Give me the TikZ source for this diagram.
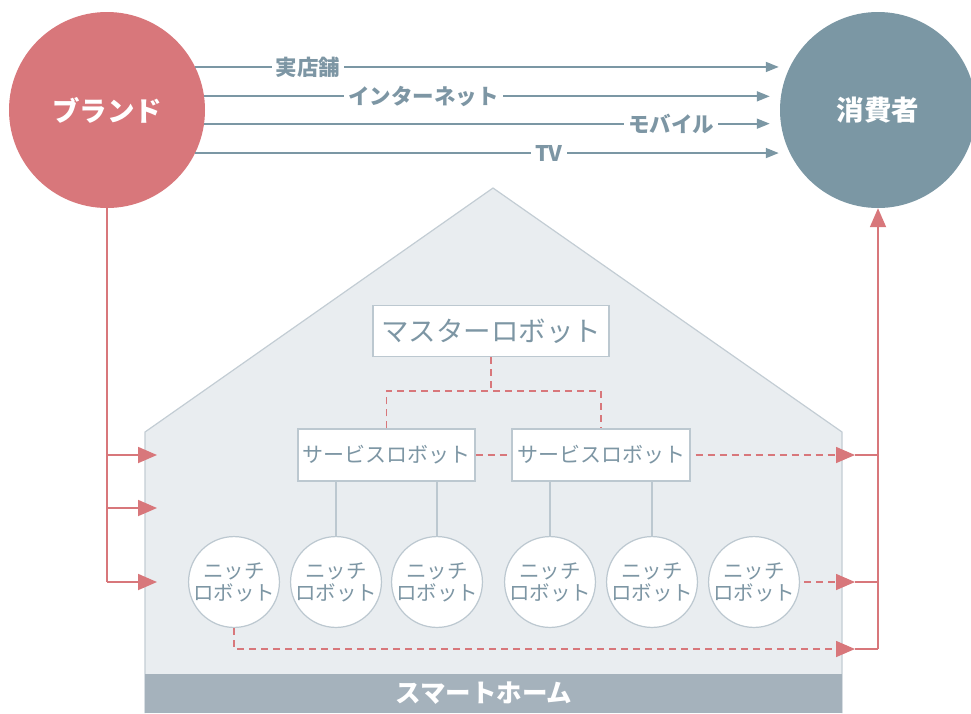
\documentclass[tikz,border=0pt]{standalone}
\usepackage{fontspec}
\setmainfont{Noto Sans CJK JP}
\usetikzlibrary{arrows.meta}
\definecolor{brandred}{HTML}{D8777B}
\definecolor{consblue}{HTML}{7B97A4}
\definecolor{slate}{HTML}{7D96A4}
\definecolor{housefill}{HTML}{E9EDF0}
\definecolor{housedraw}{HTML}{C3CDD4}
\definecolor{bandfill}{HTML}{A5B2BC}
\definecolor{boxdraw}{HTML}{BCC8D0}
\tikzset{
  bigcircle/.style={circle, minimum size=196pt, inner sep=0pt, text=white, font=\fontsize{27.5}{27.5}\selectfont\bfseries},
  chanline/.style={draw=consblue, line width=1.8pt, -{Triangle[length=13pt,width=10pt]}, shorten >=11pt},
  chanlabel/.style={fill=white, inner sep=4pt, text=slate, font=\fontsize{21.5}{21.5}\selectfont\bfseries},
  redline/.style={draw=brandred, line width=1.8pt},
  redarrow/.style={draw=brandred, line width=1.8pt, -{Triangle[length=19pt,width=16pt]}},
  reddash/.style={draw=brandred, line width=1.5pt, dash pattern=on 7pt off 5pt},
  reddasharrow/.style={reddash, -{Triangle[length=19pt,width=16pt]}},
  graylink/.style={draw=boxdraw, line width=1.5pt},
  robobox/.style={draw=boxdraw, line width=1.2pt, fill=white, text=slate, inner sep=0pt},
  niche/.style={circle, draw=boxdraw, line width=1.2pt, fill=white, text=slate, minimum size=88pt, inner sep=0pt, align=center, font=\fontsize{20.5}{22}\selectfont},
}
\begin{document}
\begin{tikzpicture}[x=1pt,y=-1pt]
\useasboundingbox (0,0) rectangle (971,713);
% house
\path[fill=housefill, draw=housedraw, line width=1.2pt] (145,713) -- (145,432) -- (493,188) -- (842,432) -- (842,713);
\fill[bandfill] (145,674) rectangle (842,713);
\node[text=white, font=\fontsize{25.5}{25.5}\selectfont\bfseries] (home) at (484,693) {スマートホーム};

% big circles
\node[bigcircle, fill=brandred] (brand) at (107,110) {ブランド};
\node[bigcircle, fill=consblue] (cons) at (878,110) {消費者};

% channels
\draw[chanline] (brand.26) -- (cons.154) node[chanlabel, pos=0.19] (l1) {実店舗};
\draw[chanline] (brand.8) -- (cons.172) node[chanlabel, pos=0.38] (l2) {インターネット};
\draw[chanline] (brand.-8) -- (cons.-172) node[chanlabel, pos=0.81] (l3) {モバイル};
\draw[chanline] (brand.-26) -- (cons.-154) node[chanlabel, pos=0.595] (l4) {TV};

% robots
\node[robobox, minimum width=236pt, minimum height=51pt, font=\fontsize{27.5}{27.5}\selectfont] (master) at (491,331) {マスターロボット};
\node[robobox, minimum width=177pt, minimum height=52pt, font=\fontsize{21}{21}\selectfont] (s1) at (386.5,455) {サービスロボット};
\node[robobox, minimum width=178pt, minimum height=52pt, font=\fontsize{21}{21}\selectfont] (s2) at (601,455) {サービスロボット};

\node[niche] (n1) at (234,582) {ニッチ\\ロボット};
\node[niche] (n2) at (336,582) {ニッチ\\ロボット};
\node[niche] (n3) at (437,582) {ニッチ\\ロボット};
\node[niche] (n4) at (550,582) {ニッチ\\ロボット};
\node[niche] (n5) at (652,582) {ニッチ\\ロボット};
\node[niche] (n6) at (754,582) {ニッチ\\ロボット};

% gray links
\draw[graylink] (n2.north |- s1.south) -- (n2.north);
\draw[graylink] (n3.north |- s1.south) -- (n3.north);
\draw[graylink] (n4.north |- s2.south) -- (n4.north);
\draw[graylink] (n5.north |- s2.south) -- (n5.north);

% master hierarchy
\coordinate (mj) at (491,391);
\draw[reddash] (master.south) -- (mj);
\draw[reddash] (s1.north) |- (mj) -| (s2.north);
\draw[reddash] (s1.east) -- (s2.east -| s2.west);

% brand to home
\coordinate (bl1) at (107,455);
\coordinate (bl2) at (107,508);
\coordinate (bl3) at (107,582);
\coordinate (bt1) at (157,455);
\coordinate (bt2) at (157,508);
\coordinate (bt3) at (157,582);
\draw[redline] (brand.south) -- (bl3);
\draw[redarrow] (bl1) -- (bt1);
\draw[redarrow] (bl2) -- (bt2);
\draw[redarrow] (bl3) -- (bt3);

% home to consumer
\coordinate (rt1) at (855,455);
\coordinate (rt2) at (855,582);
\coordinate (rt3) at (855,649);
\coordinate (rc1) at (878,455);
\coordinate (rc2) at (878,582);
\coordinate (rc3) at (878,649);
\coordinate (nb) at (234,649);
\draw[reddasharrow] ([xshift=5pt]s2.east) -- (rt1);
\draw[reddasharrow] ([xshift=4pt]n6.east) -- (rt2);
\draw[reddasharrow] (n1.south) -- (nb) -- (rt3);
\draw[redline] (rt1) -- (rc1);
\draw[redline] (rt2) -- (rc2);
\draw[redline] (rt3) -- (rc3);
\draw[redarrow] (rc3) -- (cons.south);
\end{tikzpicture}
\end{document}
